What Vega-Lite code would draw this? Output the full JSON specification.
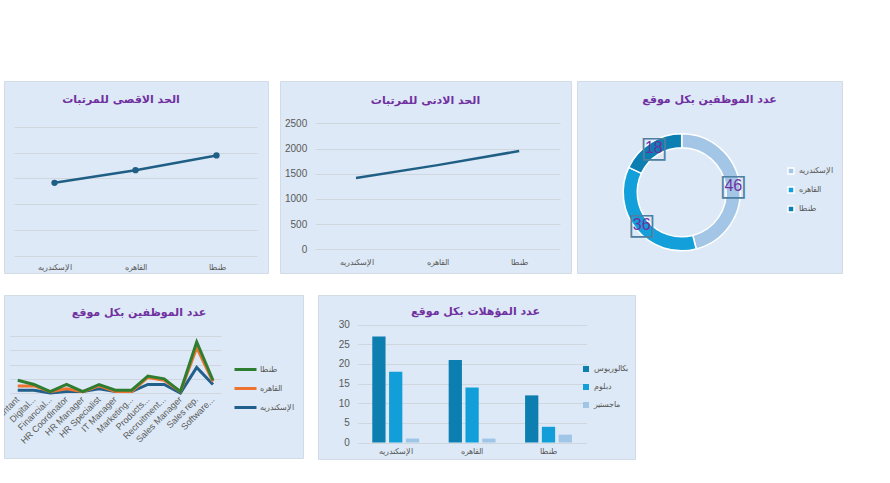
{
  "$schema": "https://vega.github.io/schema/vega-lite/v6.json",
  "background": "white",
  "padding": {"left": 3, "top": 80, "right": 0, "bottom": 0},
  "config": {
    "font": "Liberation Sans",
    "view": {"fill": "#dde9f6", "stroke": "#d3dbe4", "strokeWidth": 1},
    "title": {"color": "#7030a0", "fontSize": 11, "fontWeight": "bold", "font": "DejaVu Sans", "anchor": "middle", "frame": "group"},
    "axis": {"domain": false, "ticks": false, "tickSize": 0, "labelColor": "#595959", "labelFontSize": 10, "title": null, "gridColor": "#d0d6dd", "gridWidth": 1, "labelPadding": 0},
    "legend": {"labelColor": "#595959", "labelFontSize": 8, "title": null, "orient": "none"}
  },
  "datasets": {
    "maxSalary": [
      {"location": "الإسكندريه", "salary": 2830},
      {"location": "القاهره", "salary": 3320},
      {"location": "طنطا", "salary": 3890}
    ],
    "minSalary": [
      {"location": "الإسكندريه", "salary": 1415},
      {"location": "القاهره", "salary": 1670},
      {"location": "طنطا", "salary": 1950}
    ],
    "staff": [
      {"location": "الإسكندريه", "count": 46},
      {"location": "القاهره", "count": 36},
      {"location": "طنطا", "count": 18}
    ],
    "jobs": [
      {"job": "Accountant", "location": "الإسكندريه", "count": 2},
      {"job": "Accountant", "location": "القاهره", "count": 3},
      {"job": "Accountant", "location": "طنطا", "count": 4},
      {"job": "Digital...", "location": "الإسكندريه", "count": 2},
      {"job": "Digital...", "location": "القاهره", "count": 3},
      {"job": "Digital...", "location": "طنطا", "count": 1},
      {"job": "Financial...", "location": "الإسكندريه", "count": 0},
      {"job": "Financial...", "location": "القاهره", "count": 1},
      {"job": "Financial...", "location": "طنطا", "count": 0},
      {"job": "HR Coordinator", "location": "الإسكندريه", "count": 1},
      {"job": "HR Coordinator", "location": "القاهره", "count": 2},
      {"job": "HR Coordinator", "location": "طنطا", "count": 3},
      {"job": "HR Manager", "location": "الإسكندريه", "count": 1},
      {"job": "HR Manager", "location": "القاهره", "count": 0},
      {"job": "HR Manager", "location": "طنطا", "count": 0},
      {"job": "HR Specialist", "location": "الإسكندريه", "count": 3},
      {"job": "HR Specialist", "location": "القاهره", "count": 2},
      {"job": "HR Specialist", "location": "طنطا", "count": 1},
      {"job": "IT Manager", "location": "الإسكندريه", "count": 1},
      {"job": "IT Manager", "location": "القاهره", "count": 0},
      {"job": "IT Manager", "location": "طنطا", "count": 1},
      {"job": "Marketing...", "location": "الإسكندريه", "count": 1},
      {"job": "Marketing...", "location": "القاهره", "count": 0},
      {"job": "Marketing...", "location": "طنطا", "count": 1},
      {"job": "Products...", "location": "الإسكندريه", "count": 6},
      {"job": "Products...", "location": "القاهره", "count": 5},
      {"job": "Products...", "location": "طنطا", "count": 1},
      {"job": "Recruitment...", "location": "الإسكندريه", "count": 6},
      {"job": "Recruitment...", "location": "القاهره", "count": 3},
      {"job": "Recruitment...", "location": "طنطا", "count": 1},
      {"job": "Sales Manager", "location": "الإسكندريه", "count": 0},
      {"job": "Sales Manager", "location": "القاهره", "count": 1},
      {"job": "Sales Manager", "location": "طنطا", "count": 0},
      {"job": "Sales rep.", "location": "الإسكندريه", "count": 18},
      {"job": "Sales rep.", "location": "القاهره", "count": 14},
      {"job": "Sales rep.", "location": "طنطا", "count": 4},
      {"job": "Software...", "location": "الإسكندريه", "count": 6},
      {"job": "Software...", "location": "القاهره", "count": 2},
      {"job": "Software...", "location": "طنطا", "count": 1}
    ],
    "quals": [
      {"location": "الإسكندريه", "degree": "بكالوريوس", "count": 27},
      {"location": "الإسكندريه", "degree": "دبلوم", "count": 18},
      {"location": "الإسكندريه", "degree": "ماجستير", "count": 1},
      {"location": "القاهره", "degree": "بكالوريوس", "count": 21},
      {"location": "القاهره", "degree": "دبلوم", "count": 14},
      {"location": "القاهره", "degree": "ماجستير", "count": 1},
      {"location": "طنطا", "degree": "بكالوريوس", "count": 12},
      {"location": "طنطا", "degree": "دبلوم", "count": 4},
      {"location": "طنطا", "degree": "ماجستير", "count": 2}
    ]
  },
  "spacing": 20,
  "resolve": {"scale": {"color": "independent"}, "legend": {"color": "independent"}},
  "vconcat": [
    {
      "spacing": 10,
      "resolve": {"scale": {"color": "independent"}, "legend": {"color": "independent"}},
      "hconcat": [
        {
          "width": 264,
          "height": 192,
          "view": {"fill": "#dde9f6", "stroke": "#d3dbe4"},
          "title": {"text": "الحد الاقصى للمرتبات", "offset": -24, "dx": -15},
          "data": {"name": "maxSalary"},
          "mark": {"type": "line", "color": "#1f5f85", "strokeWidth": 2.5, "point": {"filled": true, "size": 40, "color": "#1f5f85"}},
          "encoding": {
            "x": {"field": "location", "type": "nominal", "sort": null,
                  "scale": {"range": [10, 253], "padding": 0.5},
                  "axis": {"labelAngle": 0, "labelBaseline": "middle", "offset": -6, "labelFontSize": 8, "grid": false}},
            "y": {"field": "salary", "type": "quantitative",
                  "scale": {"domain": [0, 5000], "range": [175, 45.7], "nice": false},
                  "axis": {"values": [0, 1000, 2000, 3000, 4000, 5000], "labels": false, "grid": true}}
          }
        },
        {
          "bounds": "flush",
          "spacing": 6,
          "resolve": {"scale": {"color": "independent"}, "legend": {"color": "independent"}},
          "hconcat": [
            {
              "width": 291,
              "height": 192,
              "view": {"fill": "#dde9f6", "stroke": "#d3dbe4"},
              "title": {"text": "الحد الادنى للمرتبات", "offset": -25},
              "data": {"name": "minSalary"},
              "mark": {"type": "line", "color": "#1f5f85", "strokeWidth": 2.5},
              "encoding": {
                "x": {"field": "location", "type": "nominal", "sort": null,
                      "scale": {"range": [35.2, 280], "padding": 0.5},
                      "axis": {"labelAngle": 0, "labelBaseline": "middle", "offset": -11, "labelFontSize": 8, "grid": false}},
                "y": {"field": "salary", "type": "quantitative",
                      "scale": {"domain": [0, 2500], "range": [168.3, 42.3], "nice": false},
                      "axis": {"values": [0, 500, 1000, 1500, 2000, 2500], "format": "d", "offset": -26.7, "grid": true}}
              }
            },
            {
              "width": 265,
              "height": 192,
              "view": {"fill": "#dde9f6", "stroke": "#d3dbe4"},
              "title": {"text": "عدد الموظفين بكل موقع", "offset": -24, "dx": 0},
              "data": {"name": "staff"},
              "encoding": {
                "theta": {"field": "count", "type": "quantitative", "stack": true},
                "order": {"field": "location", "type": "ordinal", "sort": "ascending"}
              },
              "layer": [
                {
                  "mark": {"type": "arc", "innerRadius": 44.5, "outerRadius": 58.5, "x": 104.7, "y": 111.3, "stroke": "white", "strokeWidth": 1.5},
                  "encoding": {
                    "color": {"field": "location", "type": "nominal",
                              "scale": {"domain": ["الإسكندريه", "القاهره", "طنطا"], "range": ["#a3c6e6", "#139fd9", "#0b7fb2"]},
                              "legend": {"legendX": 210, "legendY": 86, "symbolType": "square", "symbolSize": 36, "rowPadding": 7, "labelOffset": 4}}
                  }
                },
                {
                  "mark": {"type": "text", "radius": 52, "x": 104.7, "y": 111.3, "fontSize": 30, "color": "#4f7fa3", "font": "DejaVu Sans", "align": "center", "baseline": "middle"},
                  "encoding": {
                    "detail": {"field": "location", "type": "nominal"},
                    "text": {"value": "□"}
                  }
                },
                {
                  "mark": {"type": "text", "radius": 52, "x": 104.7, "y": 111.3, "fontSize": 16, "color": "#7030a0", "align": "center", "baseline": "middle"},
                  "encoding": {
                    "detail": {"field": "location", "type": "nominal"},
                    "text": {"field": "count", "type": "quantitative"}
                  }
                }
              ]
            }
          ]
        }
      ]
    },
    {
      "bounds": "flush",
      "spacing": 15,
      "resolve": {"scale": {"color": "independent"}, "legend": {"color": "independent"}},
      "hconcat": [
        {
          "width": 299,
          "height": 163,
          "view": {"fill": "#dde9f6", "stroke": "#d3dbe4"},
          "title": {"text": "عدد الموظفين بكل موقع", "offset": -23, "dx": -14.5},
          "data": {"name": "jobs"},
          "layer": [
            {
              "transform": [
                {"stack": "count", "groupby": ["job"], "sort": [{"field": "location", "order": "ascending"}], "as": ["stackLow", "stackHigh"]}
              ],
              "mark": {"type": "line", "strokeWidth": 3},
              "encoding": {
                "x": {"field": "job", "type": "nominal", "sort": null,
                      "scale": {"range": [5.6, 217.1], "padding": 0.5}, "axis": null},
                "y": {"field": "stackHigh", "type": "quantitative", "stack": null,
                      "scale": {"domain": [0, 40], "range": [98, 41.3], "nice": false},
                      "axis": {"values": [0, 10, 20, 30, 40], "labels": false, "grid": true}},
                "color": {"field": "location", "type": "nominal",
                          "scale": {"domain": ["الإسكندريه", "القاهره", "طنطا"], "range": ["#215f8c", "#ec7430", "#2f7d31"]},
                          "legend": {"values": ["طنطا", "القاهره", "الإسكندريه"], "legendX": 229, "legendY": 62, "symbolType": "stroke", "symbolSize": 484, "symbolStrokeWidth": 3, "rowPadding": -3.5, "labelOffset": 2}}
              }
            },
            {
              "transform": [{"filter": "datum.location === 'الإسكندريه'"}],
              "mark": {"type": "text", "angle": 315, "align": "right", "baseline": "middle", "fontSize": 9, "color": "#595959", "clip": true, "yOffset": 5},
              "encoding": {
                "x": {"field": "job", "type": "nominal", "sort": null},
                "y": {"datum": 0},
                "text": {"field": "job", "type": "nominal"}
              }
            }
          ]
        },
        {
          "width": 317,
          "height": 164,
          "view": {"fill": "#dde9f6", "stroke": "#d3dbe4"},
          "title": {"text": "عدد المؤهلات بكل موقع", "offset": -22, "dx": -1},
          "data": {"name": "quals"},
          "mark": {"type": "bar"},
          "encoding": {
            "x": {"field": "location", "type": "nominal", "sort": null,
                  "scale": {"range": [39.5, 268.7], "paddingInner": 0, "paddingOuter": 0},
                  "axis": {"labelAngle": 0, "labelBaseline": "middle", "offset": -8, "labelFontSize": 8, "grid": false}},
            "xOffset": {"field": "degree", "type": "nominal", "scale": {"paddingInner": 0.21, "paddingOuter": 0.88}},
            "y": {"field": "count", "type": "quantitative",
                  "scale": {"domain": [0, 30], "range": [147.5, 29.7], "nice": false},
                  "axis": {"values": [0, 5, 10, 15, 20, 25, 30], "offset": -31.3, "grid": true}},
            "color": {"field": "degree", "type": "nominal",
                      "scale": {"domain": ["بكالوريوس", "دبلوم", "ماجستير"], "range": ["#0c7fb0", "#129fd9", "#9fc6e7"]},
                      "legend": {"legendX": 264, "legendY": 70, "symbolType": "square", "symbolSize": 36, "rowPadding": 10, "labelOffset": 4}}
          }
        }
      ]
    }
  ]
}
